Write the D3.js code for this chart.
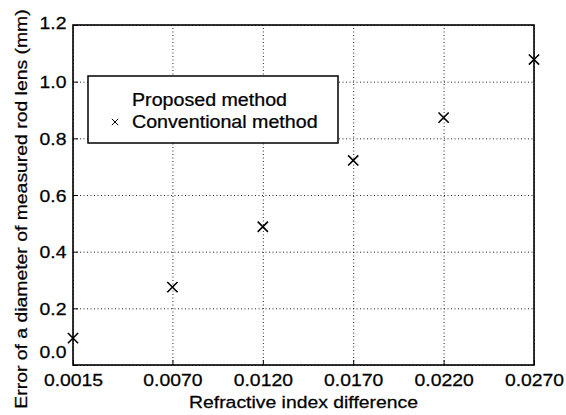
<!DOCTYPE html>
<html>
<head>
<meta charset="utf-8">
<script src="https://cdn.jsdelivr.net/npm/d3@7"></script>
<style>
  body { margin: 0; background: #fff; }
  text { font-family: "Liberation Sans", Arial, sans-serif; fill: #000; stroke: #000; stroke-width: 0.25; }
</style>
</head>
<body>
<div id="chart"></div>
<script>
const xValues = [0.0015, 0.0070, 0.0120, 0.0170, 0.0220, 0.0270];
const conventional = [0.095, 0.275, 0.488, 0.722, 0.873, 1.078];
const xTicks = [0.0015, 0.0070, 0.0120, 0.0170, 0.0220, 0.0270];
const xTickLabels = ['0.0015', '0.0070', '0.0120', '0.0170', '0.0220', '0.0270'];
const yTicks = [0, 0.2, 0.4, 0.6, 0.8, 1.0, 1.2];
const yTickLabels = ['0.0', '0.2', '0.4', '0.6', '0.8', '1.0', '1.2'];
const legendLabels = ['Proposed method', 'Conventional method'];

const W = 566, H = 415;
const margin = { top: 25, right: 32, bottom: 50, left: 73 };
const width = W - margin.left - margin.right;
const height = H - margin.top - margin.bottom;
const stretch = 1.14;

const svg = d3.select('#chart').append('svg')
  .attr('width', W).attr('height', H);

const g = svg.append('g')
  .attr('transform', `translate(${margin.left},${margin.top})`);

const x = d3.scaleLinear().domain([0.0015, 0.027]).range([0, width]);
const y = d3.scaleLinear().domain([0, 1.2]).range([height, 0]);

// dotted grid
g.append('g')
  .attr('transform', `translate(0,${height})`)
  .call(d3.axisBottom(x).tickValues(xTicks).tickSize(-height).tickFormat(''))
  .call(a => a.select('.domain').remove())
  .selectAll('line')
  .attr('stroke', '#222').attr('stroke-width', 1).attr('stroke-dasharray', '1,2.5');
g.append('g')
  .call(d3.axisLeft(y).tickValues(yTicks).tickSize(-width).tickFormat(''))
  .call(a => a.select('.domain').remove())
  .selectAll('line')
  .attr('stroke', '#222').attr('stroke-width', 1).attr('stroke-dasharray', '1,2.5');

// axes with inward ticks
const xAxis = g.append('g')
  .attr('transform', `translate(0,${height})`)
  .call(d3.axisBottom(x).tickValues(xTicks).tickSize(-5)
    .tickFormat((d, i) => xTickLabels[i]));
xAxis.select('.domain').remove();
xAxis.selectAll('text')
  .attr('y', null).attr('dy', null)
  .attr('font-size', 17)
  .attr('transform', `translate(0,20.5) scale(${stretch},1)`);

const yShift = d => d === 0 ? -8 : (d === 1.2 ? 3 : 6);
const yAxis = g.append('g')
  .call(d3.axisLeft(y).tickValues(yTicks).tickSize(-5)
    .tickFormat((d, i) => yTickLabels[i]));
yAxis.select('.domain').remove();
yAxis.selectAll('text')
  .attr('x', null).attr('dy', null)
  .attr('font-size', 17)
  .attr('transform', d => `translate(-6.5,${yShift(d)}) scale(${stretch},1)`);

svg.selectAll('.tick line').filter(function () {
  return !this.getAttribute('stroke-dasharray');
}).attr('stroke', '#000').attr('stroke-width', 1);

// frame
g.append('rect')
  .attr('width', width).attr('height', height)
  .attr('fill', 'none').attr('stroke', '#000').attr('stroke-width', 1.6);

// markers
const cross = d3.symbol().type(d3.symbolX).size(70);
g.selectAll('.pt').data(xValues)
  .join('path')
  .attr('class', 'pt')
  .attr('d', cross)
  .attr('transform', (d, i) => `translate(${x(d)},${y(conventional[i])})`)
  .attr('fill', 'none').attr('stroke', '#000').attr('stroke-width', 1.6);

// legend
const lg = svg.append('g').attr('transform', 'translate(88,76)');
lg.append('rect')
  .attr('width', 250).attr('height', 67)
  .attr('fill', '#fff').attr('stroke', '#000').attr('stroke-width', 1.5);
lg.selectAll('text').data(legendLabels)
  .join('text')
  .attr('font-size', 17.7)
  .attr('transform', (d, i) => `translate(44,${30 + i * 22}) scale(1.11,1)`)
  .text(d => d);
lg.append('path')
  .attr('d', d3.symbol().type(d3.symbolX).size(28))
  .attr('transform', 'translate(27,46)')
  .attr('fill', 'none').attr('stroke', '#000').attr('stroke-width', 1);

// axis titles
svg.append('text')
  .attr('text-anchor', 'middle')
  .attr('font-size', 17)
  .attr('transform', `translate(${margin.left + width / 2},408) scale(${stretch},1)`)
  .text('Refractive index difference');
svg.append('text')
  .attr('text-anchor', 'middle')
  .attr('font-size', 17)
  .attr('transform', `translate(27,209) rotate(-90) scale(${stretch},1)`)
  .text('Error of a diameter of measured rod lens (mm)');
</script>
</body>
</html>
